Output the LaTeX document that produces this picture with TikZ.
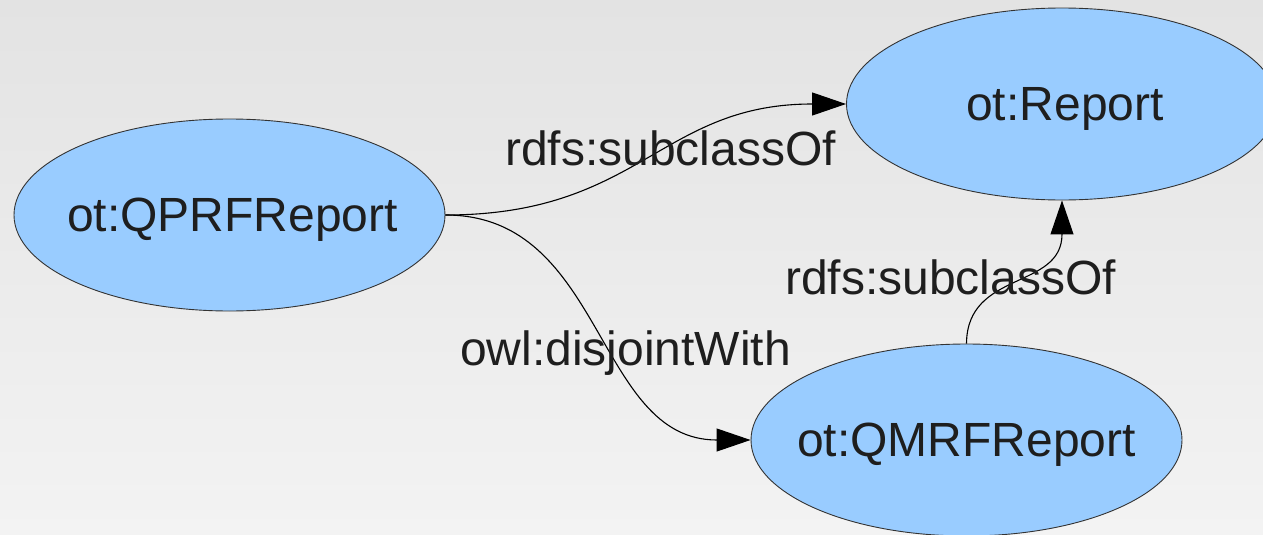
\documentclass[tikz,border=0pt]{standalone}
\usepackage{fontspec}
\setmainfont{Liberation Sans}
\usetikzlibrary{arrows.meta,shapes.geometric}
\definecolor{nodefill}{HTML}{99CCFF}
\definecolor{txt}{HTML}{1E1E1E}
\definecolor{bgtop}{HTML}{E3E3E3}
\definecolor{bgbot}{HTML}{F3F3F3}
\newcommand{\zbox}[1]{\makebox[0pt][c]{#1}}
\tikzset{
  cls/.style={ellipse, draw=black!80, line width=0.9pt, fill=nodefill, inner sep=0pt,
    minimum width=431pt, minimum height=192pt, text=txt,
    font=\fontsize{48}{58}\selectfont, text height=40pt, text depth=8pt},
  lbl/.style={anchor=base west, inner sep=0pt, text=txt, font=\fontsize{48}{58}\selectfont},
  rel/.style={line width=1.1pt, draw=black, -{Triangle[length=34pt,width=23pt]}}
}
\begin{document}
\begin{tikzpicture}[x=1pt,y=-1pt]
\useasboundingbox (0,0) rectangle (1263,535);
\clip (0,0) rectangle (1263,535);
\shade[top color=bgtop, bottom color=bgbot] (0,0) rectangle (1263,535);
\node[cls] (qprf) at (229.5,215) {\zbox{\hspace{6pt}ot:QPRFReport}};
\node[cls] (report) at (1062,104) {\zbox{\hspace{6pt}ot:Report}};
\node[cls] (qmrf) at (966.5,440) {\zbox{ot:QMRFReport}};
\draw[rel] (qprf.east) .. controls (640,215) and (660,104) .. (report.west);
\draw[rel] (qprf.east) .. controls (605,215) and (595,440) .. (qmrf.west);
\draw[rel] (qmrf.north) .. controls (967,270) and (1062,290) .. (report.south);
\node[lbl] (l1) at (505,165) {rdfs:subclassOf};
\node[lbl] (l2) at (785,294) {rdfs:subclassOf};
\node[lbl] (l3) at (460,365) {owl:disjointWith};
\end{tikzpicture}
\end{document}
